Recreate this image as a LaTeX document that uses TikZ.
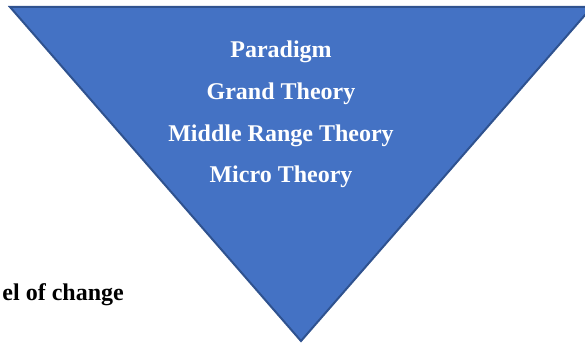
\documentclass[tikz,border=0pt]{standalone}
\usepackage{fontspec}
\setmainfont{Liberation Serif}
\usepackage{tikz}
\usetikzlibrary{positioning}
\definecolor{pyramidblue}{HTML}{4472C4}
\definecolor{pyramidedge}{HTML}{2F528F}

\begin{document}
\begin{tikzpicture}[x=1pt, y=-1pt,
    level/.style={font=\bfseries\fontsize{24}{28}\selectfont, text=white, anchor=base}]

\useasboundingbox (0,0) rectangle (585,344);

% Inverted triangle
\coordinate (T-left) at (10,7);
\coordinate (T-right) at (592,7);
\coordinate (T-apex) at (301,341);
\draw[pyramidedge, line width=2pt, fill=pyramidblue] (T-left) -- (T-right) -- (T-apex) -- cycle;

% Levels
\foreach \t [count=\i] in {Paradigm, Grand Theory, Middle Range Theory, Micro Theory}
    \node[level] (L-\i) at (281, 16+41.7*\i) {\t};

% Side label
\node[font=\bfseries\fontsize{24}{28}\selectfont, anchor=base east, inner sep=0pt] (change) at (124,300) {el of change};

\end{tikzpicture}
\end{document}
